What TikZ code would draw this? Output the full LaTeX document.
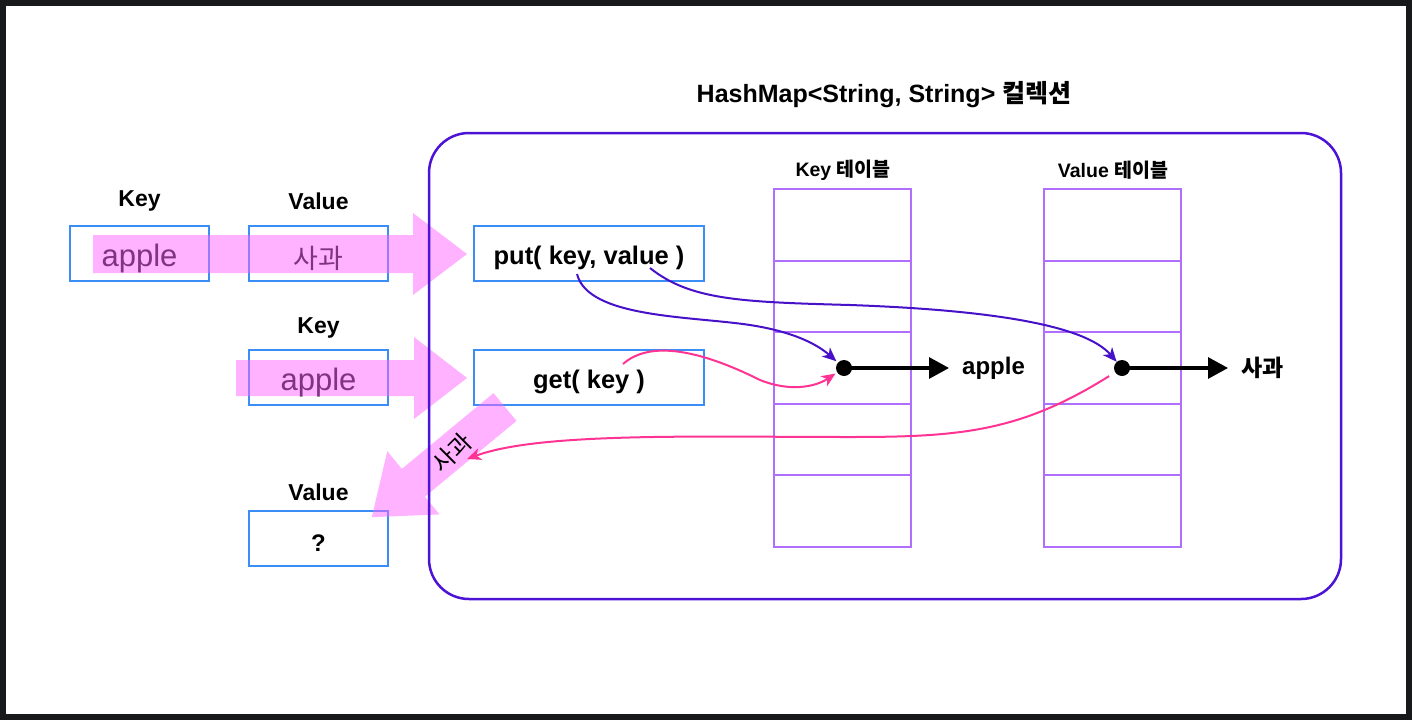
\documentclass[tikz,border=0pt]{standalone}
\usepackage{fontspec}
\setmainfont{Liberation Sans}
\newfontfamily\krfont{Noto Sans CJK KR}
\usetikzlibrary{arrows.meta}
\definecolor{framec}{HTML}{18191B}
\definecolor{boxblue}{HTML}{3A8EF6}
\definecolor{hmc}{HTML}{4C12D6}
\definecolor{tblc}{HTML}{B06EFF}
\definecolor{curvep}{HTML}{4710C9}
\definecolor{curvek}{HTML}{FF3393}
\definecolor{pinkarrow}{HTML}{FF66FF}
\newcommand\dn[1]{\raisebox{-4.5pt}[\height][\depth]{#1}}
\tikzset{
  box/.style={draw=boxblue, line width=2pt, minimum width=139pt, minimum height=55pt, inner sep=0pt},
  fnbox/.style={box, minimum width=230pt},
  lbl/.style={inner sep=0pt, font=\bfseries\fontsize{23}{23}\selectfont},
  tlbl/.style={inner sep=0pt, font=\bfseries\fontsize{19.5}{19.5}\selectfont},
  tbl/.style={draw=tblc, line width=2pt},
  container/.style={draw=hmc, line width=2.5pt, rounded corners=40pt, minimum width=912pt, minimum height=466pt, inner sep=0pt},
  pinkar/.style={fill=pinkarrow, fill opacity=0.5, draw=none},
  dot/.style={circle, fill=black, inner sep=0pt, minimum size=16pt},
  blk/.style={draw=black, line width=3.2pt, -{Triangle[length=20pt,width=21pt]}},
  pcurve/.style={draw=curvep, line width=2pt, -{Stealth[length=14pt,width=12pt,inset=4pt]}},
  kcurve/.style={draw=curvek, line width=2pt, -{Stealth[length=14pt,width=12pt,inset=4pt]}},
  txt/.style={inner sep=0pt}
}
\begin{document}
\begin{tikzpicture}[x=1pt,y=-1pt]
\fill[framec] (0,0) rectangle (1412,720);
\fill[white] (6,6) rectangle (1406,714);
\useasboundingbox (0,0) rectangle (1412,720);

% title
\node[inner sep=0pt, font=\bfseries\fontsize{25}{25}\selectfont] (title) at (884,95) {HashMap<String, String> {\krfont\bfseries 컬렉션}};

% tables
\foreach \i in {0,...,4} {
  \draw[tbl] (774,{189+71.6*\i}) rectangle ++(137,71.6);
  \draw[tbl] (1044,{189+71.6*\i}) rectangle ++(137,71.6);
}
\node[tlbl] (ktl) at (843,170) {Key {\krfont\bfseries 테이블}};
\node[tlbl] (vtl) at (1113,170) {Value {\krfont\bfseries 테이블}};

% left boxes
\node[lbl] (l1) at (139.5,201) {Key};
\node[lbl] (l2) at (318.5,201) {Value};
\node[lbl] (l3) at (318.5,328) {Key};
\node[lbl] (l4) at (318.5,492) {Value};
\node[box] (k1) at (139.5,253.5) {\fontsize{31}{31}\selectfont\dn{apple}};
\node[box] (v1) at (318.5,253.5) {\krfont\fontsize{27}{27}\selectfont\dn{사과}};
\node[box] (k2) at (318.5,377.5) {\fontsize{31}{31}\selectfont\dn{apple}};
\node[box] (res) at (318.5,538.5) {\bfseries\fontsize{24}{24}\selectfont\dn{?}};

% function boxes
\node[fnbox] (put) at (589,253.5) {\bfseries\fontsize{25.5}{25.5}\selectfont\dn{put( key, value )}};
\node[fnbox] (get) at (589,377.5) {\bfseries\fontsize{25.5}{25.5}\selectfont\dn{get( key )}};

% pink arrows
\path[pinkar] (93,235) -- (413,235) -- (413,213) -- (467,254) -- (413,295) -- (413,273) -- (93,273) -- cycle;
\path[pinkar] (236,360) -- (414,360) -- (414,337) -- (467,378) -- (414,419) -- (414,396) -- (236,396) -- cycle;
\path[pinkar] (516.5,420.9) -- (424.9,496.7) -- (439.5,514.4) -- (371.8,517.2) -- (387.3,451.2) -- (401.9,468.9) -- (493.5,393.1) -- cycle;

% container
\node[container] (hm) at (885,366) {};

% rotated label on return arrow
\node[txt, rotate=45, font=\krfont\fontsize{24}{24}\selectfont] (rl) at (452,453) {사과};

% dots and results
\node[dot] (kd) at (844,368) {};
\node[dot] (vd) at (1122,368) {};
\node[txt, anchor=west, font=\bfseries\fontsize{24}{24}\selectfont] (ka) at (962,368) {apple};
\node[txt, anchor=west, font=\krfont\bfseries\fontsize{23}{23}\selectfont] (va) at (1241,368) {사과};
\draw[blk] (kd.center) -- ([xshift=-13pt]ka.west);
\draw[blk] (vd.center) -- ([xshift=-13pt]va.west);

% curve start points
\coordinate (pkey) at (577,274);
\coordinate (pval) at (650,268);
\coordinate (gkey) at (623,364);
\coordinate (ret) at (467,459);

\draw[pcurve, shorten >=2pt] (pkey) .. controls (588,318) and (690,316) .. (750,325) .. controls (795,332) and (818,345) .. (kd);
\draw[pcurve, shorten >=0pt] (pval) .. controls (690,300) and (740,302) .. (850,305) .. controls (990,310) and (1085,325) .. (vd);
\draw[kcurve, shorten >=2pt] (gkey) .. controls (650,340) and (700,350) .. (760,380) .. controls (790,392) and (815,387) .. (kd);
\draw[kcurve, shorten <=7pt] (vd) .. controls (1020,432) and (960,437) .. (850,437) .. controls (700,437) and (540,432) .. (ret);
\end{tikzpicture}
\end{document}
